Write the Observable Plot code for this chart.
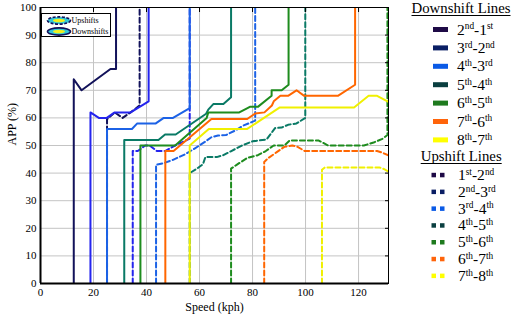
<!DOCTYPE html>
<html><head><meta charset="utf-8">
<script src="https://cdn.jsdelivr.net/npm/d3@7"></script>
<script src="https://cdn.jsdelivr.net/npm/@observablehq/plot@0.6"></script>
<style>
body{margin:0;background:#fff;}
#wrap{position:relative;width:514px;height:319px;overflow:hidden;background:#fff;}
#chart{position:absolute;left:0;top:0;}
#overlay{position:absolute;left:0;top:0;}
</style></head>
<body><div id="wrap"><div id="chart"></div><svg id="overlay" width="514" height="319"></svg></div>
<script>
// ---- data (speed kph, APP %) ----
const xTicks = [0, 20, 40, 60, 80, 100, 120];
const yTicks = [0, 10, 20, 30, 40, 50, 60, 70, 80, 90, 100];

const down_2_1 = [[12.55,0],[12.55,74],[15.5,70],[26.4,77.7],[28.5,77.7],[28.5,100]];
const down_3_2 = [[18.85,0],[18.85,62],[22,60],[25,60],[28,62],[34,62],[40.8,66],[40.8,100]];
const down_4_3 = [[25.1,0],[25.1,56],[34.5,56],[36.5,58],[43.5,58],[46.5,60],[50,60],[56.3,63.5],[56.3,100]];
const down_5_4 = [[31.6,0],[31.6,52],[44.5,52],[47,54],[51,54],[62.5,61.5],[63.3,63],[65.2,65],[69,65],[71.9,67.5],[71.9,100]];
const down_6_5 = [[37.7,0],[37.7,50],[50.8,50],[62.7,60],[63.3,62],[75,62],[79,64],[82,64],[87.2,68],[87.2,70],[91,70],[93.6,72],[93.6,100]];
const down_7_6 = [[47.1,0],[47.1,48],[50.2,48],[64.5,59.6],[78,59.6],[81,61.6],[84.5,62],[87.3,64.5],[88,66],[90.5,68],[93.4,68],[96.6,70],[99.5,68],[112.2,68],[118.7,72],[118.7,100]];
const down_8_7 = [[56.3,0],[56.3,50],[63.5,56],[78,56],[90.3,63.8],[118.3,63.8],[123.8,68],[127,68],[131.3,65.8]];

const up_1_2 = [[25.1,0],[25.1,59.5],[28,62],[31,60],[34,62],[37.4,64.5],[37.4,100]];
const up_2_3 = [[34.8,0],[34.8,48],[36.7,48],[39.5,50],[41.2,50],[43.9,48],[47,48],[50.8,50],[53.5,51.2],[56.3,52.5],[56.3,100]];
const up_3_4 = [[43.6,0],[43.6,43],[46.4,43.6],[50,44.8],[54.5,46.8],[58,48.8],[62,51.3],[64.5,53],[67,53.6],[70,53.8],[73.4,55.4],[76.5,57.2],[81,59],[81,100]];
const up_4_5 = [[56.3,0],[56.3,40],[59,41.6],[61.3,43.2],[62.2,45.8],[66.5,45.8],[69,46.5],[72,48],[76,50],[80,51.5],[85.3,52.2],[87.5,55],[88.5,56.3],[91,56.5],[93.4,57.5],[96.6,58],[99.9,60],[99.9,100]];
const up_5_6 = [[71.9,0],[71.9,41.6],[74,43],[78,45.5],[82,46.5],[85,48],[88,50],[92,50],[94,51.8],[105,51.8],[108.5,50],[122,50],[126,51.2],[129,52.4],[130.9,53.8],[130.9,100]];
const up_6_7 = [[84.4,0],[84.4,44],[86,45.5],[89,47.5],[92,49.5],[95,50],[97,49.5],[99.7,48],[127,48],[129,47.4],[131.3,46.4]];
const up_7_8 = [[106.2,0],[106.2,41.2],[107.2,42],[128,42],[129.5,41.5],[131.3,40.5]];

const downNames = ["2nd-1st","3rd-2nd","4th-3rd","5th-4th","6th-5th","7th-6th","8th-7th"];
const upNames = ["1st-2nd","2nd-3rd","3rd-4th","4th-5th","5th-6th","6th-7th","7th-8th"];
const lineColors = ["#12125a","#2424ee","#1c62e6","#0a7a66","#1e8c1e","#ff6600","#f0f000"];
const legendColors = ["#1e0a46","#0a1e64","#0a5ae6","#0a3f40","#1e7a1e","#ff640a","#ffff00"];

const downData = [down_2_1, down_3_2, down_4_3, down_5_4, down_6_5, down_7_6, down_8_7];
const upData = [up_1_2, up_2_3, up_3_4, up_4_5, up_5_6, up_6_7, up_7_8];

const toRows = (arr) => arr.map(([x, y]) => ({x, y}));

const upMarks = upData.map((d, i) => Plot.line(toRows(d), {x: "x", y: "y", stroke: lineColors[i], strokeWidth: 2, strokeDasharray: "5,3", clip: true}));
const downMarks = downData.map((d, i) => Plot.line(toRows(d), {x: "x", y: "y", stroke: lineColors[i], strokeWidth: 2, clip: true}));

const chart = Plot.plot({
  width: 392, height: 319,
  marginLeft: 40, marginRight: 4, marginTop: 7, marginBottom: 36,
  x: {domain: [0, 131.3], label: null},
  y: {domain: [0, 100], label: null},
  style: {fontFamily: "'Liberation Serif', 'Times New Roman', serif", fontSize: "11px", background: "white", color: "black"},
  marks: [
    Plot.gridX(xTicks, {stroke: "#c4c4c4", strokeOpacity: 1, strokeWidth: 1}),
    Plot.gridY(yTicks, {stroke: "#c4c4c4", strokeOpacity: 1, strokeWidth: 1}),
    ...upMarks,
    ...downMarks,
    Plot.frame({stroke: "black", strokeWidth: 1}),
    Plot.ruleX([0], {stroke: "black", strokeWidth: 2}),
    Plot.ruleY([0], {stroke: "black", strokeWidth: 2}),
    Plot.axisX(xTicks, {anchor: "bottom", tickSize: 0, tickPadding: 5, label: null}),
    Plot.axisY(yTicks, {anchor: "left", tickSize: 0, tickPadding: 4, label: null}),
    Plot.axisY(yTicks, {anchor: "right", tickSize: -4, tickFormat: () => "", label: null}),
    Plot.axisX(xTicks, {anchor: "top", tickSize: -4, tickFormat: () => "", label: null}),
    Plot.text(["APP (%)"], {frameAnchor: "left", dx: -28, rotate: -90, fontSize: 12}),
    Plot.text(["Speed (kph)"], {frameAnchor: "bottom", dy: 27, fontSize: 12})
  ]
});
document.getElementById("chart").appendChild(chart);

// ---- legends ----
const svg = d3.select("#overlay");
const serif = "'Liberation Serif', 'Times New Roman', serif";

function labelText(g, str, x, y, size) {
  const t = g.append("text").attr("x", x).attr("y", y).attr("font-family", serif).attr("font-size", size).attr("fill", "black");
  const parts = str.match(/(\d)(st|nd|rd|th)/g);
  const sep = str.split("-");
  sep.forEach((p, k) => {
    const m = p.match(/(\d)(\w+)/);
    const first = t.append("tspan").text((k > 0 ? "-" : "") + m[1]);
    if (k > 0) first.attr("dy", size * 0.33);
    t.append("tspan").attr("font-size", size * 0.6).attr("dy", -size * 0.33).text(m[2]);
  });
}

// Downshift header
svg.append("text").attr("x", 411.5).attr("y", 13).attr("font-family", serif).attr("font-size", 15)
  .attr("textLength", 99).attr("lengthAdjust", "spacingAndGlyphs").text("Downshift Lines");
svg.append("line").attr("x1", 411.5).attr("x2", 510.5).attr("y1", 15.5).attr("y2", 15.5).attr("stroke", "black").attr("stroke-width", 1);
downNames.forEach((n, i) => {
  const cy = 29.5 + i * 18.4;
  svg.append("rect").attr("x", 433).attr("y", cy - 2.5).attr("width", 15).attr("height", 5).attr("fill", legendColors[i]);
  labelText(svg, n, 457, cy + 5, 15.5);
});

// Upshift header
svg.append("text").attr("x", 420.7).attr("y", 161).attr("font-family", serif).attr("font-size", 15)
  .attr("textLength", 81).attr("lengthAdjust", "spacingAndGlyphs").text("Upshift Lines");
svg.append("line").attr("x1", 420.7).attr("x2", 501.7).attr("y1", 163.5).attr("y2", 163.5).attr("stroke", "black").attr("stroke-width", 1);
upNames.forEach((n, i) => {
  const cy = 175 + i * 16.8;
  svg.append("rect").attr("x", 431.5).attr("y", cy - 2.2).attr("width", 4.5).attr("height", 4.5).attr("fill", legendColors[i]);
  svg.append("rect").attr("x", 440).attr("y", cy - 2.2).attr("width", 4.5).attr("height", 4.5).attr("fill", legendColors[i]);
  labelText(svg, n, 458, cy + 5, 15.5);
});

// Inset legend (top-left)
const inset = svg.append("g");
inset.append("rect").attr("x", 41.5).attr("y", 13.5).attr("width", 69).attr("height", 23).attr("fill", "white").attr("stroke", "black").attr("stroke-width", 1);
const icons = [{label: "Upshifts", cy: 20.5, dash: "3,1.5"}, {label: "Downshifts", cy: 31.5, dash: null}];
icons.forEach(ic => {
  inset.append("ellipse").attr("cx", 59).attr("cy", ic.cy).attr("rx", 11.5).attr("ry", 3.6)
    .attr("fill", "#30c8d8").attr("stroke", "#10105a").attr("stroke-width", 1.6).attr("stroke-dasharray", ic.dash);
  inset.append("ellipse").attr("cx", 59).attr("cy", ic.cy).attr("rx", 6).attr("ry", 1.8).attr("fill", "#f0f020");
  inset.append("text").attr("x", 71.5).attr("y", ic.cy + 2.8).attr("font-family", serif).attr("font-size", 8).text(ic.label);
});
</script>
</body></html>
